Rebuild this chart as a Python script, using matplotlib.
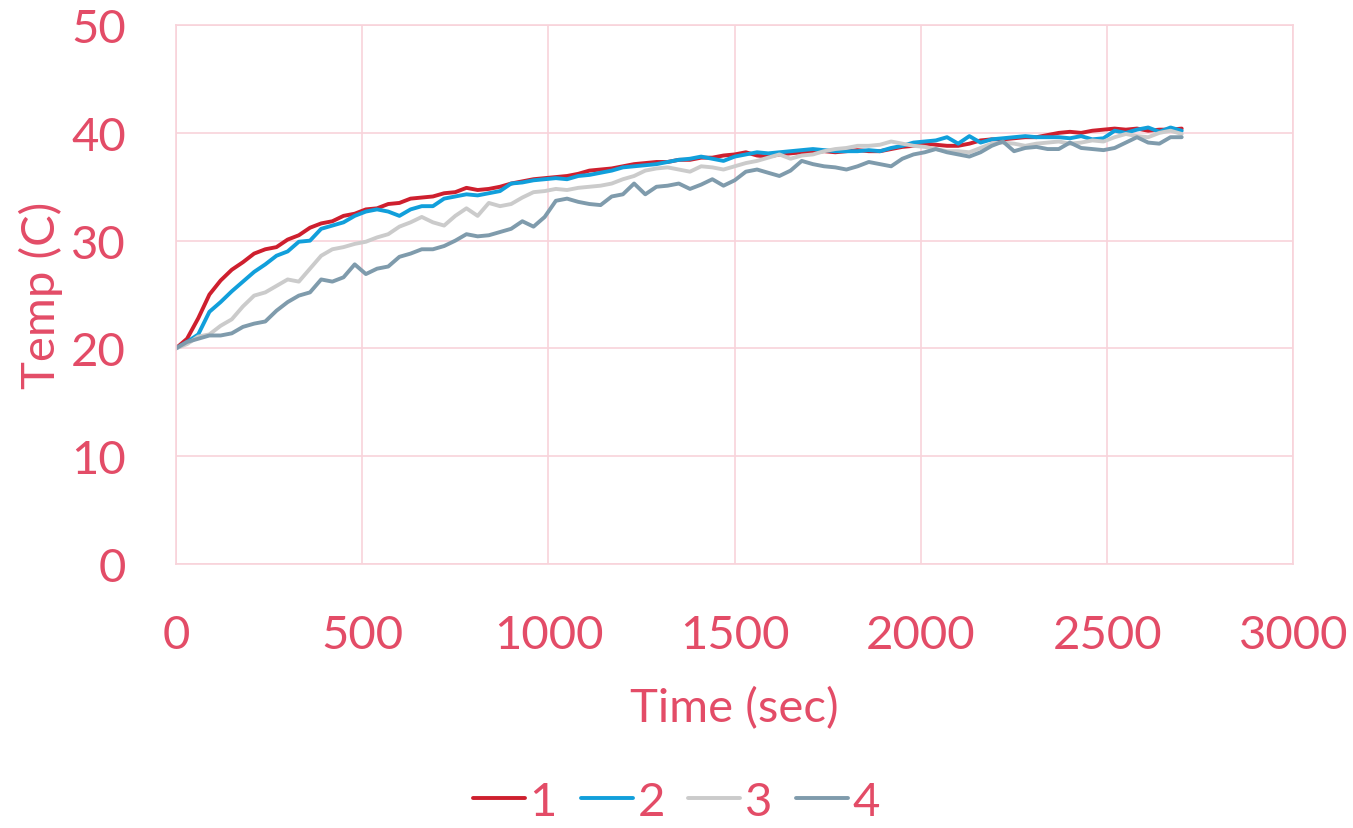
import numpy as np
import matplotlib
matplotlib.use("Agg")
import matplotlib.pyplot as plt

plt.rcParams['font.family'] = ['Lato', 'DejaVu Sans']

TEXT = '#E34C67'
GRID = '#F8D3DA'

# sample times, every 30 s
time = np.arange(0, 2701, 30)

temp_1 = [
    20.0, 20.9, 22.8, 25.0, 26.3, 27.3, 28.0, 28.8, 29.2, 29.4,
    30.1, 30.5, 31.2, 31.6, 31.8, 32.3, 32.5, 32.9, 33.0, 33.4,
    33.5, 33.9, 34.0, 34.1, 34.4, 34.5, 34.9, 34.7, 34.8, 35.0,
    35.3, 35.5, 35.7, 35.8, 35.9, 36.0, 36.2, 36.5, 36.6, 36.7,
    36.9, 37.1, 37.2, 37.3, 37.3, 37.5, 37.5, 37.7, 37.7, 37.9,
    38.0, 38.2, 37.9, 37.8, 38.0, 38.1, 38.2, 38.2, 38.3, 38.2,
    38.3, 38.4, 38.3, 38.3, 38.5, 38.7, 38.8, 39.0, 38.9, 38.8,
    38.8, 39.0, 39.3, 39.4, 39.4, 39.5, 39.6, 39.6, 39.8, 40.0,
    40.1, 40.0, 40.2, 40.3, 40.4, 40.3, 40.4, 40.2, 40.3, 40.3,
    40.4,
]
temp_2 = [
    20.0, 20.6, 21.3, 23.4, 24.3, 25.3, 26.2, 27.1, 27.8, 28.6,
    29.0, 29.9, 30.0, 31.1, 31.4, 31.7, 32.3, 32.7, 32.9, 32.7,
    32.3, 32.9, 33.2, 33.2, 33.9, 34.1, 34.3, 34.2, 34.4, 34.6,
    35.3, 35.4, 35.6, 35.7, 35.8, 35.7, 36.0, 36.1, 36.3, 36.5,
    36.8, 36.9, 37.0, 37.1, 37.3, 37.5, 37.6, 37.8, 37.6, 37.4,
    37.8, 38.0, 38.2, 38.1, 38.2, 38.3, 38.4, 38.5, 38.4, 38.3,
    38.3, 38.3, 38.4, 38.3, 38.6, 38.8, 39.1, 39.2, 39.3, 39.6,
    39.0, 39.7, 39.1, 39.4, 39.5, 39.6, 39.7, 39.6, 39.6, 39.6,
    39.5, 39.7, 39.4, 39.5, 40.2, 40.0, 40.3, 40.5, 40.1, 40.5,
    40.2,
]
temp_3 = [
    20.0, 20.4, 21.1, 21.3, 22.1, 22.7, 23.9, 24.9, 25.2, 25.8,
    26.4, 26.2, 27.4, 28.6, 29.2, 29.4, 29.7, 29.9, 30.3, 30.6,
    31.3, 31.7, 32.2, 31.7, 31.4, 32.3, 33.0, 32.3, 33.5, 33.2,
    33.4, 34.0, 34.5, 34.6, 34.8, 34.7, 34.9, 35.0, 35.1, 35.3,
    35.7, 36.0, 36.5, 36.7, 36.8, 36.6, 36.4, 36.9, 36.8, 36.6,
    36.9, 37.2, 37.4, 37.7, 38.0, 37.6, 37.9, 38.0, 38.3, 38.5,
    38.6, 38.8, 38.8, 38.9, 39.2, 39.0, 38.8, 38.7, 38.5, 38.3,
    38.3, 38.2, 38.6, 39.0, 39.1, 39.0, 38.8, 39.0, 39.1, 39.2,
    39.0, 39.1, 39.3, 39.2, 39.6, 39.9, 39.7, 39.6, 40.0, 40.2,
    39.9,
]
temp_4 = [
    20.0, 20.6, 20.9, 21.2, 21.2, 21.4, 22.0, 22.3, 22.5, 23.5,
    24.3, 24.9, 25.2, 26.4, 26.2, 26.6, 27.8, 26.9, 27.4, 27.6,
    28.5, 28.8, 29.2, 29.2, 29.5, 30.0, 30.6, 30.4, 30.5, 30.8,
    31.1, 31.8, 31.3, 32.2, 33.7, 33.9, 33.6, 33.4, 33.3, 34.1,
    34.3, 35.3, 34.3, 35.0, 35.1, 35.3, 34.8, 35.2, 35.7, 35.1,
    35.6, 36.4, 36.6, 36.3, 36.0, 36.5, 37.4, 37.1, 36.9, 36.8,
    36.6, 36.9, 37.3, 37.1, 36.9, 37.6, 38.0, 38.2, 38.5, 38.2,
    38.0, 37.8, 38.2, 38.8, 39.2, 38.3, 38.6, 38.7, 38.5, 38.5,
    39.1, 38.6, 38.5, 38.4, 38.6, 39.1, 39.6, 39.1, 39.0, 39.6,
    39.6,
]

series = [("1", temp_1, '#CE1F2E'),
          ("2", temp_2, '#119FDB'),
          ("3", temp_3, '#CBCBCB'),
          ("4", temp_4, '#7F9BAC')]

fig = plt.figure(figsize=(13.53, 8.29), dpi=100)
ax = fig.add_axes([0.130, 0.3185, 0.826, 0.650])

for name, vals, col in series:
    ax.plot(time, vals, color=col, lw=2.8, label=name, solid_capstyle='round')

ax.set_xlim(0, 3000)
ax.set_ylim(0, 50)
ax.set_xticks(np.arange(0, 3001, 500))
ax.set_yticks(np.arange(0, 51, 10))
ax.grid(True, color=GRID, lw=1.2)
ax.set_axisbelow(True)
for s in ax.spines.values():
    s.set_color(GRID)
    s.set_linewidth(1.2)
ax.tick_params(length=0, labelcolor=TEXT, labelsize=34)
ax.tick_params(axis='y', pad=36)
ax.tick_params(axis='x', pad=36)

ax.set_xlabel("Time (sec)", color=TEXT, fontsize=34, labelpad=22)
ax.set_ylabel("Temp (C)", color=TEXT, fontsize=34, labelpad=6)

leg = fig.legend(loc='lower center', ncol=4, frameon=False, fontsize=34,
                 labelcolor=TEXT, handlelength=1.1, handletextpad=0.1,
                 columnspacing=0.5, bbox_to_anchor=(0.5, -0.045))

fig.savefig("out.png", dpi=100)
